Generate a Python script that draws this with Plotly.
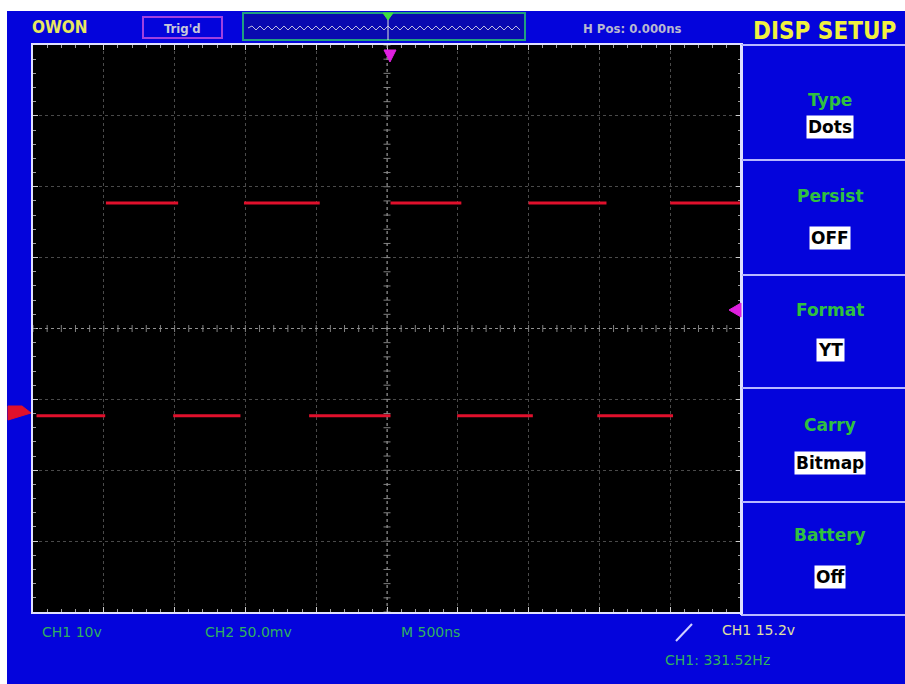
import numpy as np
import plotly.graph_objects as go

# ---- data (time in divisions, voltage in divisions) ----
HIGH_LEVEL = 1.77
LOW_LEVEL = -1.23
high_start = [1.03, 2.98, 5.05, 7.00, 9.00]
high_end = [2.05, 4.05, 6.05, 8.10, 10.00]
low_start = [0.05, 1.98, 3.90, 5.99, 7.97]
low_end = [1.02, 2.93, 5.05, 7.06, 9.04]

menu_labels = ["Type", "Persist", "Format", "Carry", "Battery"]
menu_values = ["Dots", "OFF", "YT", "Bitmap", "Off"]

status_bottom = ["CH1 10v", "CH2 50.0mv", "M 500ns"]
trig_text = "CH1 15.2v"
freq_text = "CH1: 331.52Hz"
top_brand = "OWON"
top_state = "Trig'd"
top_hpos = "H Pos: 0.000ns"
menu_title = "DISP SETUP"

W, H = 905, 684
L, R, T, B = 33, 741, 45, 612
BLUE = "#0404DC"


def px(x):
    return (x - L) / (R - L)


def py(y):
    return (B - y) / (B - T)


# waveform segments
xs, ys = [], []
for a, b in zip(high_start, high_end):
    xs += [a, b, None]
    ys += [HIGH_LEVEL, HIGH_LEVEL, None]
for a, b in zip(low_start, low_end):
    xs += [a, b, None]
    ys += [LOW_LEVEL, LOW_LEVEL, None]

fig = go.Figure()
fig.add_trace(go.Scatter(x=xs, y=ys, mode="lines",
                         line=dict(color="#E0102C", width=3),
                         hoverinfo="skip", showlegend=False))

# center-axis ticks
tick_pos = np.arange(0, 10.001, 0.2)
fig.add_trace(go.Scatter(x=tick_pos, y=[0] * len(tick_pos), mode="markers",
                         marker=dict(symbol="line-ns", size=5,
                                     line=dict(color="#808080", width=1)),
                         hoverinfo="skip", showlegend=False))
vt = np.arange(-4, 4.001, 0.2)
fig.add_trace(go.Scatter(x=[5] * len(vt), y=vt, mode="markers",
                         marker=dict(symbol="line-ew", size=5,
                                     line=dict(color="#808080", width=1)),
                         hoverinfo="skip", showlegend=False))

shapes = []
ann = []

# white margins
shapes.append(dict(type="rect", xref="paper", yref="paper",
                   x0=px(0), x1=px(7), y0=py(H), y1=py(0),
                   fillcolor="white", line=dict(width=0)))
shapes.append(dict(type="rect", xref="paper", yref="paper",
                   x0=px(0), x1=px(W), y0=py(11), y1=py(0),
                   fillcolor="white", line=dict(width=0)))

# menu separators
for yy in [45, 160, 275, 388, 502, 615]:
    shapes.append(dict(type="line", xref="paper", yref="paper",
                       x0=px(741), x1=px(W), y0=py(yy), y1=py(yy),
                       line=dict(color="#B8B8FF", width=2)))
shapes.append(dict(type="line", xref="paper", yref="paper",
                   x0=px(741), x1=px(741), y0=py(45), y1=py(615),
                   line=dict(color="#E0E0FF", width=2)))

# center dotted cross
shapes.append(dict(type="line", x0=5, x1=5, y0=-4, y1=4,
                   line=dict(color="#909090", width=1, dash="dot")))
shapes.append(dict(type="line", x0=0, x1=10, y0=0, y1=0,
                   line=dict(color="#909090", width=1, dash="dot")))

# top bar: Trig'd box
shapes.append(dict(type="rect", xref="paper", yref="paper",
                   x0=px(143), x1=px(222), y0=py(38), y1=py(17),
                   line=dict(color="#A040E0", width=2)))
# memory bar
shapes.append(dict(type="rect", xref="paper", yref="paper",
                   x0=px(243), x1=px(525), y0=py(40), y1=py(13),
                   fillcolor="#0A0AB0", line=dict(color="#20A080", width=2)))
zig = "M %f,%f" % (px(248), py(28))
xx = 248
k = 0
while xx < 520:
    xx += 4
    zig += " L %f,%f" % (px(xx), py(26 if k % 2 == 0 else 30))
    k += 1
shapes.append(dict(type="path", xref="paper", yref="paper", path=zig,
                   line=dict(color="#C0C0E0", width=1)))
shapes.append(dict(type="line", xref="paper", yref="paper",
                   x0=px(388), x1=px(388), y0=py(40), y1=py(14),
                   line=dict(color="#E0E0E0", width=1)))
shapes.append(dict(type="path", xref="paper", yref="paper",
                   path="M %f,%f L %f,%f L %f,%f Z" % (px(383), py(13), px(393), py(13), px(388), py(20)),
                   fillcolor="#40E040", line=dict(color="#40E040", width=1)))

# trigger position marker (top centre)
shapes.append(dict(type="path", xref="paper", yref="paper",
                   path="M %f,%f L %f,%f L %f,%f Z" % (px(384), py(50), px(396), py(50), px(390), py(62)),
                   fillcolor="#E020E0", line=dict(color="#E020E0", width=1)))
# trigger level marker (right)
shapes.append(dict(type="path", xref="paper", yref="paper",
                   path="M %f,%f L %f,%f L %f,%f Z" % (px(741), py(303), px(741), py(317), px(729), py(310)),
                   fillcolor="#E020E0", line=dict(color="#E020E0", width=1)))
# CH1 ground marker (left)
shapes.append(dict(type="path", xref="paper", yref="paper",
                   path="M %f,%f L %f,%f L %f,%f L %f,%f Z" % (px(8), py(406), px(22), py(406), px(31), py(413), px(8), py(420)),
                   fillcolor="#E0102C", line=dict(color="#E0102C", width=1)))


def text(x, y, s, color, size, bold=True, xanchor="center", family="DejaVu Sans", **kw):
    ann.append(dict(xref="paper", yref="paper", x=px(x), y=py(y), text=("<b>%s</b>" % s) if bold else s,
                    showarrow=False, xanchor=xanchor, yanchor="middle",
                    font=dict(color=color, size=size, family=family), **kw))


text(60, 27, top_brand, "#E8E860", 17, family="DejaVu Sans Condensed")
text(182, 28, top_state, "#C8C8D8", 13, family="DejaVu Sans Condensed")
text(632, 28, top_hpos, "#B8B8D0", 13, family="DejaVu Sans Condensed")
text(825, 31, menu_title, "#F0F040", 24, family="DejaVu Sans Condensed")

label_y = [100, 196, 310, 425, 535]
value_y = [127, 238, 350, 463, 577]
for lab, val, ly, vy in zip(menu_labels, menu_values, label_y, value_y):
    text(830, ly, lab, "#30C040", 17)
    text(830, vy, val, "#000000", 17, bgcolor="#FFFFFF", borderpad=1)

bottom_x = [72, 248, 430]
for s, x in zip(status_bottom, bottom_x):
    text(x, 632, s, "#30B060", 14, bold=False)
shapes.append(dict(type="line", xref="paper", yref="paper",
                   x0=px(676), x1=px(692), y0=py(641), y1=py(624),
                   line=dict(color="#D0D0FF", width=2)))
text(758, 630, trig_text, "#E0E0A0", 14, bold=False)
text(717, 660, freq_text, "#30B060", 14, bold=False)

fig.update_layout(
    width=W, height=H,
    margin=dict(l=L, r=W - R, t=T, b=H - B, pad=0),
    paper_bgcolor=BLUE, plot_bgcolor="black",
    shapes=shapes, annotations=ann, showlegend=False,
    xaxis=dict(range=[0, 10], dtick=1, showgrid=True, gridcolor="#4A4A4A",
               griddash="dot", gridwidth=1, zeroline=False,
               showline=True, linecolor="#E0E0FF", linewidth=2, mirror="ticks",
               ticks="inside", ticklen=5, tickcolor="#D0D0D0",
               minor=dict(ticks="inside", ticklen=3, dtick=0.2, tickcolor="#A0A0A0", showgrid=False),
               showticklabels=False, fixedrange=True),
    yaxis=dict(range=[-4, 4], dtick=1, showgrid=True, gridcolor="#4A4A4A",
               griddash="dot", gridwidth=1, zeroline=False,
               showline=True, linecolor="#E0E0FF", linewidth=2, mirror="ticks",
               ticks="inside", ticklen=5, tickcolor="#D0D0D0",
               minor=dict(ticks="inside", ticklen=3, dtick=0.2, tickcolor="#A0A0A0", showgrid=False),
               showticklabels=False, fixedrange=True),
)

fig.write_html("out.html", config=dict(displayModeBar=False),
               post_script="document.body.style.margin='0';document.body.style.overflow='hidden';")
